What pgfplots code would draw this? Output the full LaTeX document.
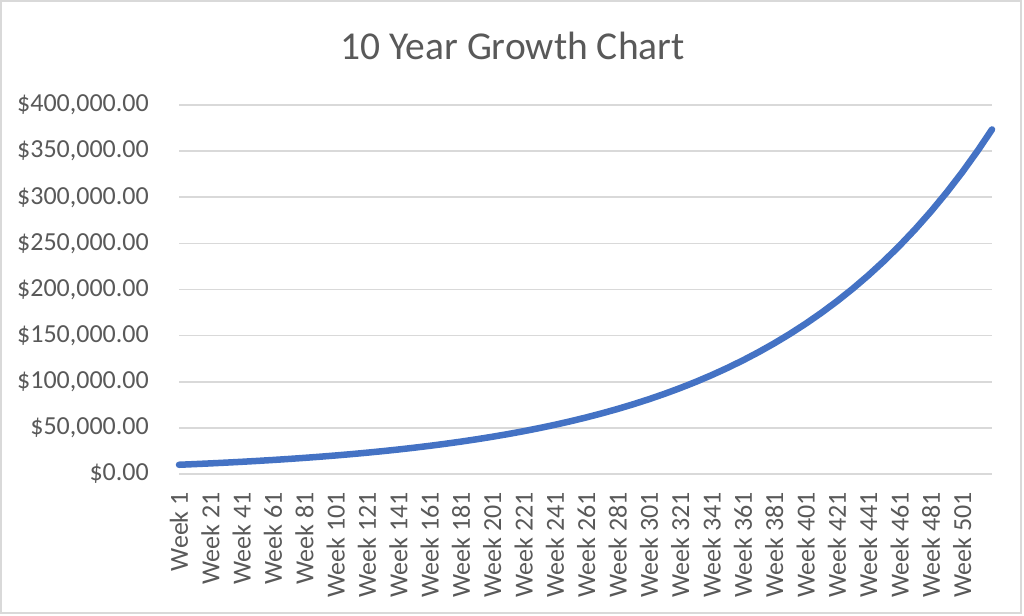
\documentclass[border=0pt]{standalone}
\usepackage{pgfplots}
\pgfplotsset{compat=1.18}
\usepackage{fontspec}
\setmainfont{Carlito}
\definecolor{txt}{HTML}{595959}
\definecolor{grd}{HTML}{D9D9D9}
\definecolor{ser}{HTML}{4472C4}
\begin{document}
\begin{tikzpicture}
\useasboundingbox (0pt,0pt) rectangle (1024pt,615pt);
\fill[white] (0pt,0pt) rectangle (1024pt,615pt);
\draw[grd, line width=2pt] (1pt,2pt) rectangle (1021pt,614pt);
\node[anchor=base, text=txt, font=\fontsize{39.5}{44}\selectfont, inner sep=0pt] at (512.5pt,555pt) {10 Year Growth Chart};
\begin{axis}[
  at={(179pt,141pt)}, anchor=south west,
  scale only axis, width=813pt, height=369pt,
  xmin=1, xmax=520, ymin=0, ymax=400000,
  xtick={1,21,...,501},
  xticklabels={Week 1,Week 21,Week 41,Week 61,Week 81,Week 101,Week 121,Week 141,Week 161,Week 181,Week 201,Week 221,Week 241,Week 261,Week 281,Week 301,Week 321,Week 341,Week 361,Week 381,Week 401,Week 421,Week 441,Week 461,Week 481,Week 501},
  ytick={0,50000,100000,150000,200000,250000,300000,350000,400000},
  yticklabels={{\$0.00},{\$50,000.00},{\$100,000.00},{\$150,000.00},{\$200,000.00},{\$250,000.00},{\$300,000.00},{\$350,000.00},{\$400,000.00}},
  scaled y ticks=false, scaled x ticks=false,
  ymajorgrids, major grid style={grd, line width=1.6pt},
  axis line style={draw=none}, major tick length=0pt,
  tick label style={text=txt, font=\fontsize{26}{30}\selectfont, inner sep=0pt},
  yticklabel style={anchor=east, xshift=-30pt},
  xticklabel style={rotate=90, anchor=east, xshift=-18pt},
  clip=false,
]
\addplot[ser, line width=6.5pt, line cap=round, line join=round] coordinates {
(1,10000) (11,10722) (21,11497) (31,12328) (41,13219) (51,14174) (61,15198) (71,16296) (81,17473) (91,18736)
(101,20089) (111,21540) (121,23096) (131,24765) (141,26554) (151,28473) (161,30530) (171,32736) (181,35101) (191,37637)
(201,40355) (211,43270) (221,46396) (231,49749) (241,53343) (251,57197) (261,61330) (271,65761) (281,70512) (291,75607)
(301,81067) (311,86924) (321,93203) (331,99938) (341,107158) (351,114901) (361,123202) (371,132104) (381,141649) (391,151883)
(401,162851) (411,174617) (421,187231) (431,200759) (441,215264) (451,230818) (461,247494) (471,265375) (481,284552) (491,305110)
(501,327143) (511,350779) (520,373506)
};
\end{axis}
\end{tikzpicture}
\end{document}
